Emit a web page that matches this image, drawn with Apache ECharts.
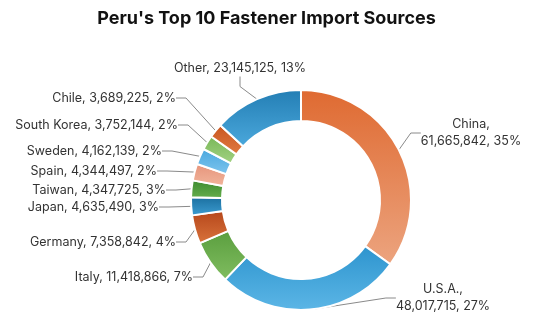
<!DOCTYPE html>
<html>
<head>
<meta charset="utf-8">
<script src="https://cdn.jsdelivr.net/npm/echarts@6/dist/echarts.min.js"></script>
<style>html,body{margin:0;padding:0;background:#fff;}#c{width:533px;height:316px;}</style>
</head>
<body>
<div id="c"></div>
<script>
const categories = ['China', 'U.S.A.', 'Italy', 'Germany', 'Japan', 'Taiwan', 'Spain', 'Sweden', 'South Korea', 'Chile', 'Other'];
const values = [61665842, 48017715, 11418866, 7358842, 4635490, 4347725, 4344497, 4162139, 3752144, 3689225, 23145125];
const percentLabels = ['35%', '27%', '7%', '4%', '3%', '3%', '2%', '2%', '2%', '2%', '13%'];
const titleText = "Peru's Top 10 Fastener Import Sources";

const colorPairs = [
  ['#df6a31', '#eca47f'],
  ['#2d94ce', '#5cb6e6'],
  ['#5a9e3e', '#80bd60'],
  ['#b5461a', '#d9733c'],
  ['#1a6e9e', '#3d9dd2'],
  ['#3c8a2f', '#66ae4c'],
  ['#e6937a', '#f1b59c'],
  ['#48a7de', '#7ec5ee'],
  ['#78b757', '#a3d283'],
  ['#c8551f', '#e17b42'],
  ['#237eb4', '#4ba8dc']
];

// label anchor layout (pixel positions of label text)
const labelPos = [
  {x: 471, y: 133, align: 'center'},
  {x: 443, y: 298, align: 'center'},
  {x: 193, y: 277, align: 'right'},
  {x: 176, y: 242, align: 'right'},
  {x: 159, y: 207, align: 'right'},
  {x: 166, y: 190, align: 'right'},
  {x: 157, y: 171, align: 'right'},
  {x: 162, y: 151, align: 'right'},
  {x: 178, y: 125, align: 'right'},
  {x: 176, y: 98, align: 'right'},
  {x: 240, y: 68, align: 'center'}
];

function fmt(n) { return n.toLocaleString('en-US'); }

const data = categories.map((c, i) => ({
  name: c,
  value: values[i],
  itemStyle: {
    color: new echarts.graphic.LinearGradient(0, 0, 0, 1, [
      {offset: 0, color: colorPairs[i][0]},
      {offset: 1, color: colorPairs[i][1]}
    ])
  }
}));

const chart = echarts.init(document.getElementById('c'), null, {renderer: 'canvas'});
chart.setOption({
  animation: false,
  backgroundColor: '#ffffff',
  title: {
    text: titleText,
    left: 'center',
    top: 5,
    textStyle: {fontFamily: 'Inter', fontWeight: 'bold', fontSize: 18, color: '#111'}
  },
  series: [{
    type: 'pie',
    center: [301, 200],
    radius: [79, 110],
    startAngle: 90,
    clockwise: true,
    data: data,
    itemStyle: {borderColor: '#ffffff', borderWidth: 2},
    label: {
      show: true,
      fontFamily: 'Inter',
      fontSize: 12.5,
      color: '#333',
      lineHeight: 17,
      overflow: 'none',
      formatter: function (p) {
        const i = p.dataIndex;
        if (i <= 1) return p.name + ',\n' + fmt(p.value) + ', ' + percentLabels[i];
        return p.name + ', ' + fmt(p.value) + ', ' + percentLabels[i];
      }
    },
    labelLine: {show: true, length: 10, length2: 10, lineStyle: {color: '#8a8a8a', width: 1}},
    labelLayout: function (params) {
      const p = labelPos[params.dataIndex];
      return {x: p.x, y: p.y, align: p.align, verticalAlign: 'middle'};
    }
  }]
});
</script>
</body>
</html>
